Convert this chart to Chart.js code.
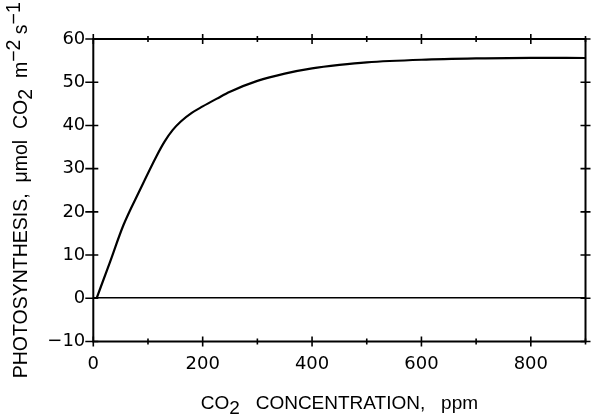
<!DOCTYPE html>
<html><head><meta charset="utf-8">
<script src="https://cdn.jsdelivr.net/npm/chart.js@4"></script>
<style>html,body{margin:0;padding:0;background:#fff;}#wrap{width:602px;height:419px;}</style>
</head><body><div id="wrap"><canvas id="c" width="602" height="419"></canvas></div>
<script>
const co2Ppm = [6, 30, 55, 85, 116, 130, 145, 160, 180, 200, 226, 250, 300, 350, 400, 450, 500, 600, 700, 800, 900];
const photosynthesis = [0, 8.2, 16.9, 25.0, 33.0, 36.2, 38.9, 40.9, 42.9, 44.4, 46.2, 47.8, 50.3, 52.0, 53.2, 54.0, 54.6, 55.2, 55.5, 55.65, 55.6];
const xTickLabels = [0, 200, 400, 600, 800];
const yTickLabels = [-10, 0, 10, 20, 30, 40, 50, 60];
const xTitleParts = [["CO", 0], ["2", 5], ["   CONCENTRATION,   ppm", 0]];
const yTitleParts = [["PHOTOSYNTHESIS,  \u03BCmol  CO", 0], ["2", 5], ["  m", 0], ["\u22122", -7], [" s", 0], ["\u22121", -7]];

function drawParts(ctx, parts) {
  const total = parts.reduce((s, p) => s + ctx.measureText(p[0]).width, 0);
  let pos = -total / 2;
  parts.forEach(([t, dy]) => { ctx.fillText(t, pos, dy); pos += ctx.measureText(t).width; });
}

const framePlugin = {
  id: 'frame',
  afterDraw(chart) {
    const { ctx, chartArea: a, scales: { x, y } } = chart;
    ctx.save();
    ctx.strokeStyle = '#000';
    ctx.lineWidth = 2;
    ctx.strokeRect(a.left, a.top, a.right - a.left, a.bottom - a.top);
    ctx.lineWidth = 1.6;
    ctx.beginPath();
    x.ticks.forEach(t => {
      const p = x.getPixelForValue(t.value);
      const L = xTickLabels.includes(t.value) ? 5 : 3;
      ctx.moveTo(p, a.bottom - L); ctx.lineTo(p, a.bottom + L);
      ctx.moveTo(p, a.top - L); ctx.lineTo(p, a.top + L);
    });
    y.ticks.forEach(t => {
      const p = y.getPixelForValue(t.value);
      ctx.moveTo(a.left - 8, p); ctx.lineTo(a.left + 5, p);
      ctx.moveTo(a.right - 5, p); ctx.lineTo(a.right + 5, p);
    });
    ctx.stroke();
    ctx.fillStyle = '#000';
    ctx.textBaseline = 'alphabetic';
    ctx.textAlign = 'left';
    ctx.font = '19px "Liberation Sans", Arial, sans-serif';
    ctx.save();
    ctx.translate((a.left + a.right) / 2, 409);
    drawParts(ctx, xTitleParts);
    ctx.restore();
    ctx.font = '19.5px "Liberation Sans", Arial, sans-serif';
    ctx.save();
    ctx.translate(27, (a.top + a.bottom) / 2);
    ctx.rotate(-Math.PI / 2);
    drawParts(ctx, yTitleParts);
    ctx.restore();
    ctx.restore();
  }
};

const tickFont = { family: '"DejaVu Sans", sans-serif', size: 18 };

new Chart(document.getElementById('c'), {
  type: 'scatter',
  data: {
    datasets: [{
      data: co2Ppm.map((v, i) => ({ x: v, y: photosynthesis[i] })),
      showLine: true,
      borderColor: '#000',
      borderWidth: 2.2,
      pointRadius: 0,
      cubicInterpolationMode: 'monotone',
      fill: false
    }]
  },
  options: {
    responsive: false,
    animation: false,
    devicePixelRatio: 1,
    layout: { padding: { left: 0, top: 39, right: 16.5, bottom: 0 } },
    plugins: { legend: { display: false }, tooltip: { enabled: false } },
    scales: {
      x: {
        type: 'linear', min: 0, max: 900,
        afterFit: s => { s.height = 77.5; },
        border: { display: false },
        grid: { display: false, drawTicks: false },
        ticks: {
          stepSize: 100, autoSkip: false, maxRotation: 0, padding: 12,
          color: '#000', font: tickFont,
          callback: v => xTickLabels.includes(v) ? String(v) : ''
        }
      },
      y: {
        type: 'linear', min: yTickLabels[0], max: yTickLabels[yTickLabels.length - 1],
        afterFit: s => { s.width = 93.3; },
        border: { display: false },
        grid: {
          drawTicks: false, drawOnChartArea: true,
          color: c => c.tick && c.tick.value === 0 ? '#000' : 'rgba(0,0,0,0)',
          lineWidth: 1.6
        },
        ticks: {
          stepSize: 10, autoSkip: false, padding: 8,
          color: '#000', font: tickFont,
          callback: v => yTickLabels.includes(v) ? (v < 0 ? '\u2212' + Math.abs(v) : String(v)) : ''
        }
      }
    }
  },
  plugins: [framePlugin]
});
</script>
</body></html>
